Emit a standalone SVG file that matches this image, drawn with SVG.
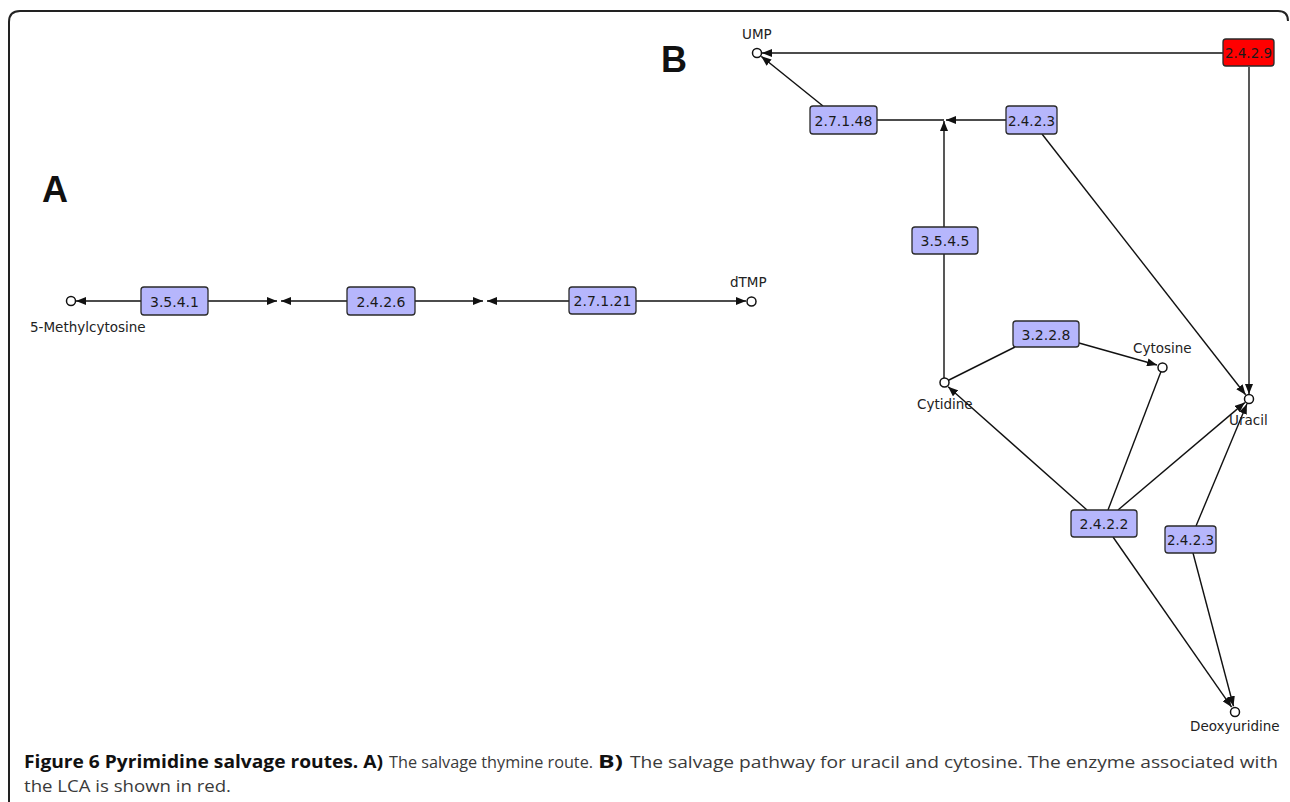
<svg xmlns="http://www.w3.org/2000/svg" width="1290" height="802" viewBox="0 0 1290 802">
<style>
.e rect{fill:#b6b6fc;stroke:#2a2a2a;stroke-width:1.3}
.e.red rect{fill:#ff0000}
.e text{font-family:"DejaVu Sans",sans-serif;font-size:14px;fill:#1a1a1a;text-anchor:middle}
.m circle{fill:#fff;stroke:#111;stroke-width:1.5}
.m text{font-family:"DejaVu Sans",sans-serif;font-size:13.5px;fill:#222}
.c line{stroke:#111;stroke-width:1.4;fill:none}
.c line.a{marker-end:url(#ah)}
.panel{font-family:"Liberation Sans",Arial,sans-serif;font-weight:bold;font-size:36px;fill:#111}
.cap{font-family:"Open Sans",sans-serif;font-size:16px;fill:#3a3a3a}
.cap.b{font-weight:bold;font-size:17.5px;fill:#111}
</style>
<defs>
<marker id="ah" markerUnits="userSpaceOnUse" markerWidth="10" markerHeight="8" refX="10" refY="4" orient="auto">
<path d="M0,0 L10,4 L0,8 z" fill="#111"/>
</marker>
</defs>
<rect width="1290" height="802" fill="#fff"/>
<path d="M9,802 L9,22 Q9,11 20,11 L1278,11 Q1288,11 1288,21" fill="none" stroke="#222" stroke-width="2"/>
<text class="panel" x="42" y="202">A</text>
<text class="panel" x="661" y="72">B</text>

<g class="c" id="connectors">
<!-- panel A -->
<line class="a" x1="141" y1="301" x2="76" y2="301"/>
<line class="a" x1="208" y1="301" x2="277" y2="301"/>
<line class="a" x1="347" y1="301" x2="281" y2="301"/>
<line class="a" x1="415" y1="301" x2="483" y2="301"/>
<line class="a" x1="569" y1="301" x2="487" y2="301"/>
<line class="a" x1="636" y1="301" x2="746" y2="301"/>
<!-- panel B -->
<line class="a" x1="1223" y1="53" x2="762" y2="53"/>
<line class="a" x1="823" y1="106" x2="761.3" y2="56.4"/>
<line x1="877" y1="120" x2="944" y2="120"/>
<line class="a" x1="1006" y1="120" x2="946" y2="120"/>
<line class="a" x1="944" y1="227" x2="944" y2="121"/>
<line x1="944" y1="253" x2="944" y2="378"/>
<line x1="948" y1="380.5" x2="1015" y2="347"/>
<line class="a" x1="1079" y1="343" x2="1157" y2="365"/>
<line class="a" x1="1042" y1="134" x2="1245.6" y2="394.7"/>
<line class="a" x1="1249" y1="67" x2="1249" y2="394"/>
<line class="a" x1="1087" y1="510" x2="948.1" y2="386.7"/>
<line x1="1108" y1="510" x2="1161" y2="371.5"/>
<line class="a" x1="1118" y1="510" x2="1244.8" y2="402.6"/>
<line class="a" x1="1196" y1="526" x2="1246.9" y2="404.1"/>
<line class="a" x1="1113" y1="537" x2="1231.6" y2="707.1"/>
<line class="a" x1="1193" y1="553" x2="1233.5" y2="706.2"/>
</g>

<!-- panel A nodes -->
<g class="m" id="n-5methylcytosine"><circle cx="71" cy="301" r="4.5"/><text x="30" y="332">5-Methylcytosine</text></g>
<g class="e" id="e-3541"><rect x="141" y="287" width="67" height="28" rx="3"/><text x="174.5" y="306.5">3.5.4.1</text></g>
<g class="e" id="e-2426"><rect x="347" y="287" width="68" height="28" rx="3"/><text x="381" y="306.5">2.4.2.6</text></g>
<g class="e" id="e-27121"><rect x="569" y="287" width="67" height="27" rx="3"/><text x="602.5" y="306">2.7.1.21</text></g>
<g class="m" id="n-dtmp"><circle cx="751.5" cy="301.5" r="4.5"/><text x="730" y="287">dTMP</text></g>

<!-- panel B nodes -->
<g class="m" id="n-ump"><circle cx="757" cy="53" r="4.5"/><text x="742" y="39">UMP</text></g>
<g class="e red" id="e-2429"><rect x="1223" y="39" width="51" height="27" rx="3"/><text x="1248.5" y="58" textLength="47" lengthAdjust="spacingAndGlyphs">2.4.2.9</text></g>
<g class="e" id="e-27148"><rect x="810" y="106" width="67" height="28" rx="3"/><text x="843.5" y="125.5">2.7.1.48</text></g>
<g class="e" id="e-2423a"><rect x="1006" y="106" width="51" height="28" rx="3"/><text x="1031.5" y="125.5" textLength="47" lengthAdjust="spacingAndGlyphs">2.4.2.3</text></g>
<g class="e" id="e-3545"><rect x="912" y="227" width="66" height="27" rx="3"/><text x="945" y="246">3.5.4.5</text></g>
<g class="e" id="e-3228"><rect x="1013" y="321" width="66" height="26" rx="3"/><text x="1046" y="339.5">3.2.2.8</text></g>
<g class="m" id="n-cytidine"><circle cx="944.5" cy="382.5" r="4.5"/><text x="917" y="409">Cytidine</text></g>
<g class="m" id="n-cytosine"><circle cx="1162.5" cy="367.5" r="4.5"/><text x="1133" y="353">Cytosine</text></g>
<g class="m" id="n-uracil"><circle cx="1249" cy="399" r="4.5"/><text x="1229" y="425">Uracil</text></g>
<g class="e" id="e-2422"><rect x="1071" y="510" width="66" height="27" rx="3"/><text x="1104" y="529">2.4.2.2</text></g>
<g class="e" id="e-2423b"><rect x="1165" y="526" width="51" height="27" rx="3"/><text x="1190.5" y="545" textLength="47" lengthAdjust="spacingAndGlyphs">2.4.2.3</text></g>
<g class="m" id="n-deoxyuridine"><circle cx="1235" cy="712" r="4.5"/><text x="1190" y="731">Deoxyuridine</text></g>

<g id="caption">
<text class="cap b" x="24" y="768" textLength="359" lengthAdjust="spacingAndGlyphs">Figure 6 Pyrimidine salvage routes. A)</text>
<text class="cap" x="389" y="768" textLength="204" lengthAdjust="spacingAndGlyphs">The salvage thymine route.</text>
<text class="cap b" x="598" y="768" textLength="25" lengthAdjust="spacingAndGlyphs">B)</text>
<text class="cap" x="630" y="768" textLength="648" lengthAdjust="spacingAndGlyphs">The salvage pathway for uracil and cytosine. The enzyme associated with</text>
<text class="cap" x="24" y="792" textLength="207" lengthAdjust="spacingAndGlyphs">the LCA is shown in red.</text>
</g>
</svg>
